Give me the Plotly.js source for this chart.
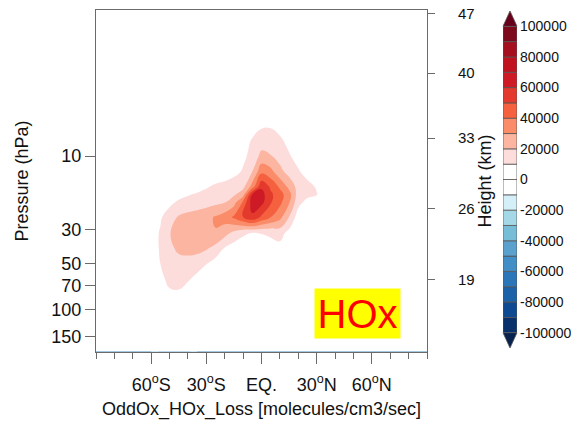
<!DOCTYPE html>
<html>
<head>
<meta charset="utf-8">
<script src="https://cdn.plot.ly/plotly-3.0.1.min.js"></script>
<style>html,body{margin:0;padding:0;background:#fff;}#chart{width:576px;height:422px;}</style>
</head>
<body>
<div id="chart"></div>
<script>
// Latitude grid (degrees) and pressure grid (hPa)
const latitudes = [-90,-70,-65,-60,-55,-50,-45,-40,-35,-30,-25,-20,-15,-10,-5,0,5,10,15,20,25,30,35,40,50,90];
const pressures = [1.12,4,5,6.3,8,10,12.6,15.8,17.8,20,25,31.6,40,50,63,80,100,187];

// OddOx HOx loss [molecules/cm3/sec], one row per pressure level
const loss_p001 = [0,0,0,0,0,0,0,0,0,0,0,0,0,0,0,0,0,0,0,0,0,0,0,0,0,0];
const loss_p004 = [0,0,0,0,0,0,0,0,0,0,0,0,0,0,1000,2000,2000,1000,0,0,0,0,0,0,0,0];
const loss_p005 = [0,0,0,0,0,0,0,0,0,0,0,0,0,1500,3000,5000,5000,3000,1500,0,0,0,0,0,0,0];
const loss_p006 = [0,0,0,0,0,0,0,0,0,0,0,0,1500,3000,6000,8500,8500,6000,3000,1500,0,0,0,0,0,0];
const loss_p008 = [0,0,0,0,0,0,0,0,0,0,1000,2500,4000,6000,11000,15000,16000,12000,7000,4000,2000,1000,0,0,0,0];
const loss_p010 = [0,0,0,0,0,0,0,0,0,2000,2500,3500,5000,8000,13000,23000,20500,16000,11000,6000,3000,1500,500,0,0,0];
const loss_p013 = [0,0,0,0,0,0,0,1500,2000,2500,3500,4500,7000,11000,20000,37000,33000,23000,16000,11000,6000,3000,1500,500,0,0];
const loss_p016 = [0,0,0,0,0,1500,2500,3500,5000,9000,11500,13000,15000,17000,34000,58000,48000,38000,27000,16000,13000,9000,3000,1000,0,0];
const loss_p018 = [0,0,0,0,2000,4000,6000,9000,11500,12500,14000,16000,18500,26000,61000,64000,52000,44000,34000,15000,12500,10500,3000,500,0,0];
const loss_p020 = [0,0,500,2000,4000,7000,12000,14000,15000,16000,17500,19500,26000,42000,65000,63000,51000,42500,31000,13000,7000,3000,1000,0,0,0];
const loss_p025 = [0,0,1000,3000,8500,16000,21000,23000,24500,27000,31000,35000,41500,51000,58000,48000,40000,33000,19500,5000,2000,500,0,0,0,0];
const loss_p032 = [0,0,1500,5000,11000,19500,24000,25500,26500,28500,29500,24000,17500,12000,10000,10500,12000,14000,7000,2500,500,0,0,0,0,0];
const loss_p040 = [0,0,1000,5000,11000,17000,22500,24000,23500,21000,16500,9000,5000,3500,3500,4000,5500,6500,3000,1000,0,0,0,0,0,0];
const loss_p050 = [0,0,1000,5000,10000,14000,15500,15500,14000,10500,6000,3000,1500,1000,1000,1000,1500,1500,500,0,0,0,0,0,0,0];
const loss_p063 = [0,0,500,3000,8000,12000,13000,11000,7500,4000,2000,1000,500,0,0,0,0,0,0,0,0,0,0,0,0,0];
const loss_p080 = [0,0,0,1500,5000,8500,8500,5500,3000,1500,500,0,0,0,0,0,0,0,0,0,0,0,0,0,0,0];
const loss_p100 = [0,0,0,500,2500,4000,4000,2500,1000,0,0,0,0,0,0,0,0,0,0,0,0,0,0,0,0,0];
const loss_p187 = [0,0,0,0,0,0,0,0,0,0,0,0,0,0,0,0,0,0,0,0,0,0,0,0,0,0];

// Axis tick labels
const latTickVals = [-60,-30,0,30,60];
const latTickText = ['60<sup>o</sup>S','30<sup>o</sup>S','EQ.','30<sup>o</sup>N','60<sup>o</sup>N'];
const presTickVals = [10,30,50,70,100,150];
const presTickText = ['10','30','50','70','100','150'];
const heightKm = ['47','40','33','26','19'];
const heightPressure = [1.18,2.89,7.64,22.1,64.0];

// Contour levels and colour bands, from -100000 up to 100000
const levelStart = -100000, levelEnd = 100000, levelStep = 10000;
const bandLower = [-100000,-90000,-80000,-70000,-60000,-50000,-40000,-30000,-20000,-10000,
                   0,10000,20000,30000,40000,50000,60000,70000,80000,90000];
const bandColors = ['#08306b','#0d4a92','#1b62a8','#2a76b8','#428ec6','#5aa1ce','#78bdd8','#a5d8e6','#d5eff8','#ffffff',
                    '#ffffff','#fddcdc','#fcb5a0','#fb8c6a','#f5603f','#e33a2d','#cd1a26','#c0121f','#a50f1e','#7d0a1b'];
const underColor = '#08224f', overColor = '#67001a';
const cbTickVals = [-100000,-80000,-60000,-40000,-20000,0,20000,40000,60000,80000,100000];

const zRows = [loss_p001,loss_p004,loss_p005,loss_p006,loss_p008,loss_p010,loss_p013,loss_p016,loss_p018,loss_p020,
               loss_p025,loss_p032,loss_p040,loss_p050,loss_p063,loss_p080,loss_p100,loss_p187];

// step colour scale: under band, 20 level bands, over band
const allBands = [underColor].concat(bandColors, [overColor]);
const n = allBands.length;
const colorscale = [];
for (let k = 0; k < n; k++) {
  const a = k === 0 ? 0 : (k - 0.5) / (n - 1);
  const b = k === n - 1 ? 1 : (k + 0.5) / (n - 1);
  colorscale.push([a, allBands[k]]);
  colorscale.push([b, allBands[k]]);
}

// layout geometry (pixels)
const W = 576, H = 422, ML = 96, MR = 59, MT = 10, MB = 70;
const PW = W - ML - MR, PH = H - MT - MB;
const plotRight = 427;
const cbTop = 26.3, cbBot = 332.7, cbX0 = 503, cbX1 = 517;
const px = x => (x - ML) / PW;
const py = y => (H - MB - y) / PH;

const FONT = 'Liberation Sans, Arial, Helvetica, sans-serif';
const AX = '#6a6a6a';

const contourTrace = {
  type: 'contour',
  x: latitudes,
  y: pressures,
  z: zRows,
  colorscale: colorscale,
  autocontour: false,
  contours: {start: levelStart, end: levelEnd, size: levelStep, coloring: 'fill', showlines: false},
  line: {width: 0, smoothing: 1.3},
  showscale: false,
  hoverinfo: 'skip'
};

// invisible trace so the right-hand height axis is rendered
const axisTrace = {type: 'scatter', x: [0], y: [10], yaxis: 'y2', mode: 'markers', marker: {opacity: 0}, hoverinfo: 'skip', showlegend: false};

// label bar drawn from the level bands
const labelBar = {
  type: 'bar', xaxis: 'x3', yaxis: 'y3',
  x: bandLower.map(() => 0), base: bandLower, y: bandLower.map(() => levelStep),
  width: 1,
  marker: {color: bandColors, line: {color: '#555', width: 0.8}},
  hoverinfo: 'skip', showlegend: false
};

const triTop = `M ${px(cbX0)} ${py(cbTop)} L ${px(cbX1)} ${py(cbTop)} L ${px((cbX0 + cbX1) / 2)} ${py(11)} Z`;
const triBot = `M ${px(cbX0)} ${py(cbBot)} L ${px(cbX1)} ${py(cbBot)} L ${px((cbX0 + cbX1) / 2)} ${py(348)} Z`;

const layout = {
  width: W, height: H,
  margin: {l: ML, r: MR, t: MT, b: MB},
  paper_bgcolor: '#ffffff', plot_bgcolor: '#ffffff',
  font: {family: FONT, color: '#111'},
  showlegend: false,
  barmode: 'overlay',
  xaxis: {
    domain: [0, px(plotRight)],
    range: [-90, 90], tickmode: 'array', tickvals: latTickVals, ticktext: latTickText,
    ticks: 'outside', ticklen: 11, tickwidth: 1, tickcolor: AX, ticklabelstandoff: 5,
    minor: {tickmode: 'linear', tick0: 0, dtick: 10, ticks: 'outside', ticklen: 6, tickcolor: AX},
    showline: true, linecolor: AX, linewidth: 1, mirror: true,
    showgrid: false, zeroline: false,
    tickfont: {family: FONT, size: 18, color: '#111'},
    title: {text: 'OddOx_HOx_Loss [molecules/cm3/sec]', font: {family: FONT, size: 18, color: '#111'}, standoff: 8}
  },
  yaxis: {
    type: 'log', range: [Math.log10(188.1), Math.log10(1.124)],
    tickmode: 'array', tickvals: presTickVals, ticktext: presTickText,
    ticks: 'outside', ticklen: 10, tickcolor: AX, ticklabelstandoff: 0,
    showline: true, linecolor: AX, linewidth: 1, mirror: false,
    showgrid: false, zeroline: false,
    tickfont: {family: FONT, size: 18, color: '#111'},
    title: {text: 'Pressure (hPa)', font: {family: FONT, size: 18, color: '#111'}, standoff: 18}
  },
  yaxis2: {
    type: 'log', overlaying: 'y', side: 'right', anchor: 'x',
    range: [Math.log10(188.1), Math.log10(1.124)],
    tickmode: 'array', tickvals: heightPressure, ticktext: heightKm,
    ticks: 'outside', ticklen: 7, tickcolor: AX, ticklabelstandoff: 20,
    showline: true, linecolor: AX, linewidth: 1,
    showgrid: false, zeroline: false,
    tickfont: {family: FONT, size: 15, color: '#111'},
    title: {text: 'Height (km)', font: {family: FONT, size: 18, color: '#111'}, standoff: 0}
  },
  xaxis3: {
    domain: [px(cbX0), px(cbX1)], anchor: 'y3', range: [-0.5, 0.5],
    visible: false, fixedrange: true
  },
  yaxis3: {
    domain: [py(cbBot), py(cbTop)], anchor: 'x3', side: 'right',
    range: [levelStart, levelEnd], tickmode: 'array', tickvals: cbTickVals, ticktext: cbTickVals.map(String),
    ticks: '', ticklabelstandoff: 2, showline: false, showgrid: false, zeroline: false, fixedrange: true,
    tickfont: {family: FONT, size: 14, color: '#111'}
  },
  annotations: [{
    xref: 'paper', yref: 'paper', x: px(357.5), y: py(313.8), xanchor: 'center', yanchor: 'middle',
    text: 'HOx', showarrow: false, bgcolor: '#ffff00', borderpad: 0, width: 85, height: 49,
    font: {family: FONT, size: 40, color: '#ff0000'}
  }],
  shapes: [
    {type: 'path', xref: 'paper', yref: 'paper', path: triTop, fillcolor: overColor, line: {color: '#555', width: 0.8}},
    {type: 'path', xref: 'paper', yref: 'paper', path: triBot, fillcolor: underColor, line: {color: '#555', width: 0.8}}
  ]
};

Plotly.newPlot('chart', [contourTrace, axisTrace, labelBar], layout, {staticPlot: true, displayModeBar: false});
</script>
</body>
</html>
